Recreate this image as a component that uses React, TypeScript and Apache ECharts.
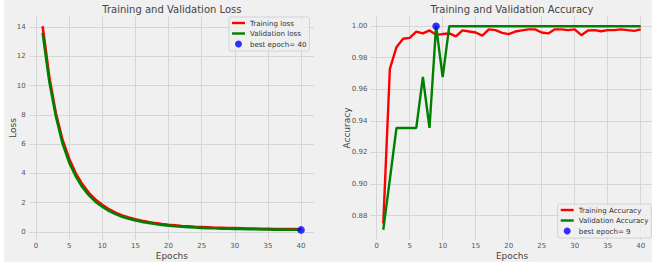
import React, { useEffect, useRef } from "react";
import * as echarts from "echarts";

const epochs: number[] = Array.from({ length: 40 }, (_, i) => i + 1);

const trainLoss: number[] = [
  14.05, 10.6, 8.1, 6.3, 5.0, 4.0, 3.25, 2.65, 2.2, 1.85,
  1.55, 1.32, 1.13, 0.98, 0.86, 0.76, 0.67, 0.6, 0.54, 0.49,
  0.45, 0.41, 0.38, 0.35, 0.33, 0.31, 0.29, 0.28, 0.27, 0.26,
  0.25, 0.24, 0.23, 0.22, 0.21, 0.2, 0.2, 0.19, 0.19, 0.18,
];
const valLoss: number[] = [
  13.6, 10.3, 7.9, 6.05, 4.75, 3.8, 3.05, 2.5, 2.05, 1.72,
  1.44, 1.22, 1.04, 0.9, 0.79, 0.69, 0.61, 0.54, 0.48, 0.43,
  0.39, 0.36, 0.33, 0.3, 0.28, 0.26, 0.25, 0.23, 0.22, 0.21,
  0.2, 0.19, 0.18, 0.17, 0.17, 0.16, 0.16, 0.15, 0.15, 0.14,
];
const trainAcc: number[] = [
  0.875, 0.973, 0.9867, 0.992, 0.9926, 0.9966, 0.9954, 0.9973, 0.9945, 0.995,
  0.9954, 0.9935, 0.9973, 0.9966, 0.996, 0.994, 0.998, 0.9975, 0.9958, 0.995,
  0.9966, 0.9973, 0.998, 0.998, 0.996, 0.9954, 0.998, 0.998, 0.9975, 0.998,
  0.9943, 0.9973, 0.9975, 0.9968, 0.9975, 0.9975, 0.998, 0.9975, 0.997, 0.998,
];
const valAcc: number[] = [
  0.871, 0.903, 0.9355, 0.9355, 0.9355, 0.9355, 0.9678, 0.9355, 1.0, 0.9678,
  1.0, 1.0, 1.0, 1.0, 1.0, 1.0, 1.0, 1.0, 1.0, 1.0,
  1.0, 1.0, 1.0, 1.0, 1.0, 1.0, 1.0, 1.0, 1.0, 1.0,
  1.0, 1.0, 1.0, 1.0, 1.0, 1.0, 1.0, 1.0, 1.0, 1.0,
];
const bestLossEpoch = 40;
const bestAccEpoch = 9;

const xTicks: number[] = [0, 5, 10, 15, 20, 25, 30, 35, 40];
const lossTicks: number[] = [0, 2, 4, 6, 8, 10, 12, 14];
const accTicks: number[] = [0.88, 0.9, 0.92, 0.94, 0.96, 0.98, 1.0];

const FONT = "DejaVu Sans";
const GRID_COLOR = "#d6d6d6";
const LABEL_COLOR = "#555555";
// thin horizontal bar centred in a 13x7 box (move-tos fix the box)
const LINE_ICON = "path://M0,0 M13,7 M0,2.3 L13,2.3 L13,4.7 L0,4.7 Z";

function makeXAxis(gridIndex: number) {
  return {
    type: "value",
    gridIndex,
    min: -0.95,
    max: 41.95,
    name: "Epochs",
    nameLocation: "middle",
    nameGap: 11,
    nameMoveOverlap: false,
    nameTextStyle: { fontFamily: FONT, fontSize: 9, color: "#444444" },
    axisLine: { show: false },
    axisTick: { show: false, customValues: xTicks },
    axisLabel: {
      customValues: xTicks,
      fontFamily: FONT,
      fontSize: 7,
      color: LABEL_COLOR,
      margin: 2.5,
    },
    splitLine: { show: true, lineStyle: { color: GRID_COLOR, width: 1 } },
  };
}

function makeLegend(names: string[], left: number, top: number) {
  return {
    data: [
      { name: names[0], icon: LINE_ICON },
      { name: names[1], icon: LINE_ICON },
      { name: names[2], icon: "circle" },
    ],
    orient: "vertical",
    left,
    top,
    itemWidth: 13,
    itemHeight: 7,
    itemGap: 2.5,
    padding: [2, 3, 3, 3],
    backgroundColor: "rgba(240,240,240,0.8)",
    borderColor: "#cccccc",
    borderWidth: 0.8,
    borderRadius: 2,
    textStyle: { fontFamily: FONT, fontSize: 7.1, color: "#333333", lineHeight: 8 },
  };
}

export default function App() {
  const ref = useRef<HTMLDivElement>(null);
  useEffect(() => {
    if (!ref.current) return;
    const chart = echarts.init(ref.current, undefined, { renderer: "svg" });
    const lineCommon = {
      type: "line",
      showSymbol: false,
      symbol: "none",
      smooth: false,
    };
    const titleStyle = { fontFamily: FONT, fontSize: 10, fontWeight: "normal", color: "#444444" };
    const option: any = {
      animation: false,
      backgroundColor: "#f0f0f0",
      graphic: [
        { type: "rect", shape: { x: 0, y: 0, width: 4, height: 262 }, style: { fill: "#ffffff" } },
      ],
      title: [
        { text: "Training and Validation Loss", left: 171.9, top: 4.5, padding: 0, textAlign: "center", textStyle: titleStyle },
        { text: "Training and Validation Accuracy", left: 512, top: 4.5, padding: 0, textAlign: "center", textStyle: titleStyle },
      ],
      grid: [
        { left: 29.7, top: 16, width: 284.3, height: 224, containLabel: false, outerBoundsMode: "none" },
        { left: 370.4, top: 16, width: 283.2, height: 224, containLabel: false, outerBoundsMode: "none" },
      ],
      xAxis: [makeXAxis(0), makeXAxis(1)],
      yAxis: [
        {
          type: "value",
          gridIndex: 0,
          min: -0.55,
          max: 14.75,
          name: "Loss",
          nameLocation: "middle",
          nameGap: 12.5,
          nameMoveOverlap: false,
          nameTextStyle: { fontFamily: FONT, fontSize: 9, color: "#444444" },
          axisLine: { show: false },
          axisTick: { show: false, customValues: lossTicks },
          axisLabel: { customValues: lossTicks, fontFamily: FONT, fontSize: 7, color: LABEL_COLOR, margin: 4 },
          splitLine: { show: true, lineStyle: { color: GRID_COLOR, width: 1 } },
        },
        {
          type: "value",
          gridIndex: 1,
          min: 0.8645,
          max: 1.00645,
          name: "Accuracy",
          nameLocation: "middle",
          nameGap: 18.5,
          nameMoveOverlap: false,
          nameTextStyle: { fontFamily: FONT, fontSize: 9, color: "#444444" },
          axisLine: { show: false },
          axisTick: { show: false, customValues: accTicks },
          axisLabel: {
            customValues: accTicks,
            fontFamily: FONT,
            fontSize: 7,
            color: LABEL_COLOR,
            margin: 3,
            formatter: (v: number) => v.toFixed(2),
          },
          splitLine: { show: true, lineStyle: { color: GRID_COLOR, width: 1 } },
        },
      ],
      legend: [
        makeLegend(["Training loss", "Validation loss", "best epoch= 40"], 229, 17),
        makeLegend(["Training Accuracy", "Validation Accuracy", "best epoch= 9"], 557.7, 204),
      ],
      series: [
        {
          ...lineCommon,
          name: "Training loss",
          xAxisIndex: 0,
          yAxisIndex: 0,
          data: epochs.map((e, i) => [e, trainLoss[i]]),
          lineStyle: { color: "#ff0000", width: 2.6 },
          itemStyle: { color: "#ff0000" },
        },
        {
          ...lineCommon,
          name: "Validation loss",
          xAxisIndex: 0,
          yAxisIndex: 0,
          data: epochs.map((e, i) => [e, valLoss[i]]),
          lineStyle: { color: "#008000", width: 2.6 },
          itemStyle: { color: "#008000" },
        },
        {
          type: "scatter",
          name: "best epoch= 40",
          xAxisIndex: 0,
          yAxisIndex: 0,
          symbolSize: 7.5,
          data: [[bestLossEpoch, valLoss[bestLossEpoch - 1]]],
          itemStyle: { color: "#0000ff" },
          z: 5,
        },
        {
          ...lineCommon,
          name: "Training Accuracy",
          xAxisIndex: 1,
          yAxisIndex: 1,
          data: epochs.map((e, i) => [e, trainAcc[i]]),
          lineStyle: { color: "#ff0000", width: 2.4 },
          itemStyle: { color: "#ff0000" },
        },
        {
          ...lineCommon,
          name: "Validation Accuracy",
          xAxisIndex: 1,
          yAxisIndex: 1,
          data: epochs.map((e, i) => [e, valAcc[i]]),
          lineStyle: { color: "#008000", width: 2.4 },
          itemStyle: { color: "#008000" },
        },
        {
          type: "scatter",
          name: "best epoch= 9",
          xAxisIndex: 1,
          yAxisIndex: 1,
          symbolSize: 7.5,
          data: [[bestAccEpoch, valAcc[bestAccEpoch - 1]]],
          itemStyle: { color: "#0000ff" },
          z: 5,
        },
      ],
    };
    chart.setOption(option);
    return () => chart.dispose();
  }, []);
  return (
    <div
      ref={ref}
      style={{ position: "fixed", left: 0, top: 0, width: 652, height: 262 }}
    />
  );
}
